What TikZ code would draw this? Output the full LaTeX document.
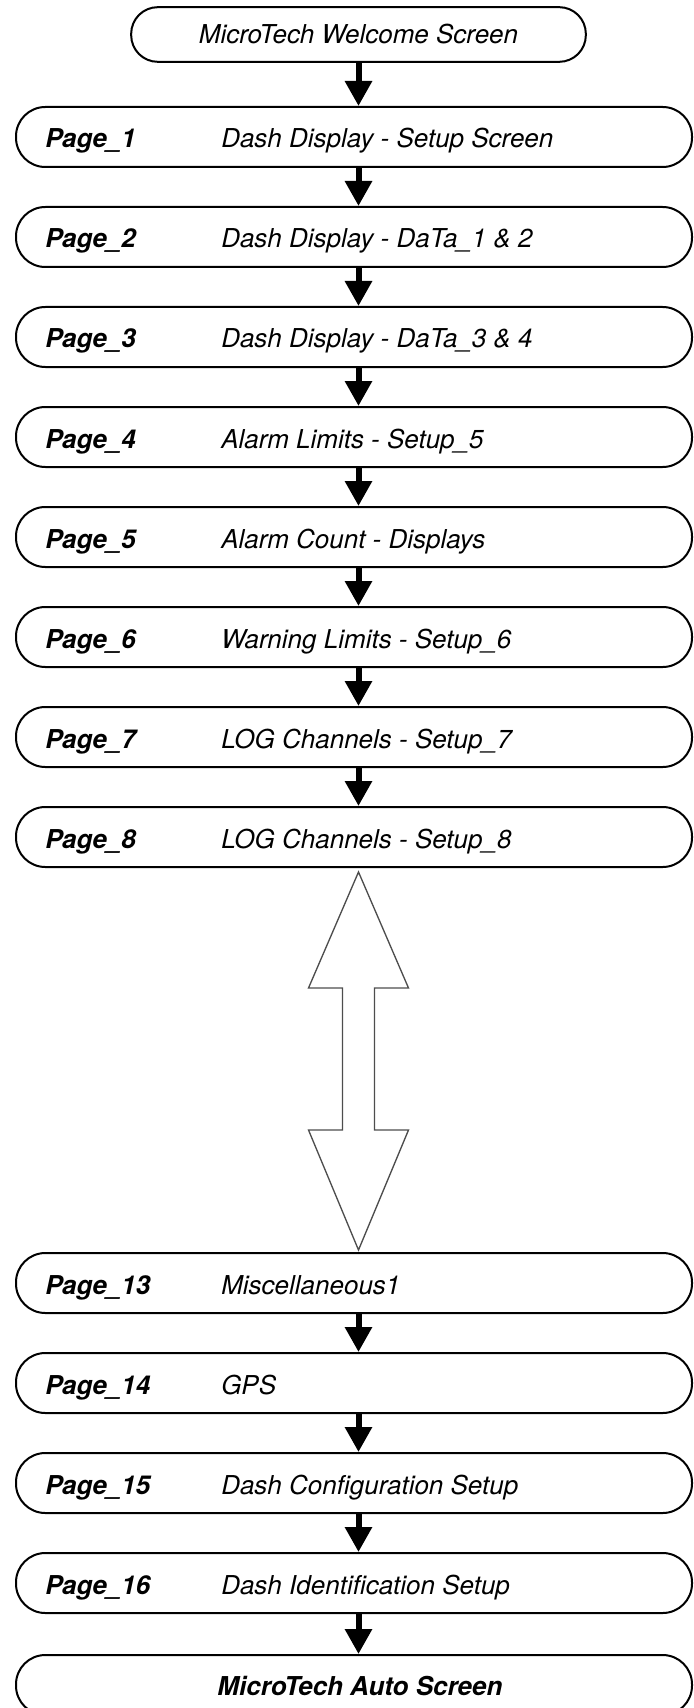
\documentclass[tikz,border=0pt]{standalone}
\usepackage{fontspec}
\setmainfont{TeX Gyre Heros}
\usetikzlibrary{arrows.meta}

\tikzset{
  screenbox/.style={draw, line width=1.5pt, rounded corners=20pt, minimum width=341pt, minimum height=41pt, inner sep=0pt},
  pagebox/.style={draw, line width=1.5pt, rounded corners=22pt, minimum width=507pt, minimum height=45pt, inner sep=0pt},
  pagelabel/.style={inner sep=0pt, anchor=base west, font=\fontsize{19.5}{23}\selectfont\bfseries\itshape},
  pagetext/.style={inner sep=0pt, anchor=base west, font=\fontsize{19.5}{23}\selectfont\itshape},
  flowarrow/.style={line width=4.5pt, -{Triangle[width=19.5pt,length=18.75pt]}},
  jumparrow/.style={draw={rgb, 255:red, 77; green, 77; blue, 77}, line width=1pt, fill=white, line join=miter}
}

\begin{document}
\begin{tikzpicture}[x=0.75pt,y=0.75pt,yscale=-1,xscale=1]
\path[use as bounding box] (0,0) rectangle (693,1708);

%Rounded Rect
\node[screenbox] (welcome) at (358.5,34.5) {};
\node[pagebox] (p1) at (354,137) {};
\node[pagebox] (p2) at (354,237) {};
\node[pagebox] (p3) at (354,337) {};
\node[pagebox] (p4) at (354,437) {};
\node[pagebox] (p5) at (354,537) {};
\node[pagebox] (p6) at (354,637) {};
\node[pagebox] (p7) at (354,737) {};
\node[pagebox] (p8) at (354,837) {};
\node[pagebox] (p13) at (354,1283) {};
\node[pagebox] (p14) at (354,1383) {};
\node[pagebox] (p15) at (354,1483) {};
\node[pagebox] (p16) at (354,1583) {};
\node[pagebox] (auto) at (354,1685) {};

%Straight Lines
\draw[flowarrow] (welcome.south) -- (welcome.south |- p1.north);
\draw[flowarrow] (p1.south -| welcome) -- (p2.north -| welcome);
\draw[flowarrow] (p2.south -| welcome) -- (p3.north -| welcome);
\draw[flowarrow] (p3.south -| welcome) -- (p4.north -| welcome);
\draw[flowarrow] (p4.south -| welcome) -- (p5.north -| welcome);
\draw[flowarrow] (p5.south -| welcome) -- (p6.north -| welcome);
\draw[flowarrow] (p6.south -| welcome) -- (p7.north -| welcome);
\draw[flowarrow] (p7.south -| welcome) -- (p8.north -| welcome);
\draw[flowarrow] (p13.south -| welcome) -- (p14.north -| welcome);
\draw[flowarrow] (p14.south -| welcome) -- (p15.north -| welcome);
\draw[flowarrow] (p15.south -| welcome) -- (p16.north -| welcome);
\draw[flowarrow] (p16.south -| welcome) -- (auto.north -| welcome);

%Shape: Up Down Arrow
\coordinate (jtop) at (358.5,872);
\coordinate (jbot) at (358.5,1250);
\draw[jumparrow] (jtop) -- ++(50,116) -- ++(-34,0) -- ++(0,142) -- ++(34,0) -- (jbot) -- ++(-50,-120) -- ++(34,0) -- ++(0,-142) -- ++(-34,0) -- cycle;

% Text Node
\node[pagetext, anchor=base] (welcometxt) at (358.5,44) {MicroTech Welcome Screen};
% Text Node
\node[pagelabel] (l1) at (45,148) {Page\_1};
\node[pagetext] (t1) at (221,148) {Dash Display - Setup Screen};
% Text Node
\node[pagelabel] (l2) at (45,248) {Page\_2};
\node[pagetext] (t2) at (221,248) {Dash Display - DaTa\_1 \& 2};
% Text Node
\node[pagelabel] (l3) at (45,348) {Page\_3};
\node[pagetext] (t3) at (221,348) {Dash Display - DaTa\_3 \& 4};
% Text Node
\node[pagelabel] (l4) at (45,448) {Page\_4};
\node[pagetext] (t4) at (221,448) {Alarm Limits - Setup\_5};
% Text Node
\node[pagelabel] (l5) at (45,548) {Page\_5};
\node[pagetext] (t5) at (221,548) {Alarm Count - Displays};
% Text Node
\node[pagelabel] (l6) at (45,648) {Page\_6};
\node[pagetext] (t6) at (221,648) {Warning Limits - Setup\_6};
% Text Node
\node[pagelabel] (l7) at (45,748) {Page\_7};
\node[pagetext] (t7) at (221,748) {LOG Channels - Setup\_7};
% Text Node
\node[pagelabel] (l8) at (45,848) {Page\_8};
\node[pagetext] (t8) at (221,848) {LOG Channels - Setup\_8};
% Text Node
\node[pagelabel] (l13) at (45,1294) {Page\_13};
\node[pagetext] (t13) at (221,1294) {Miscellaneous1};
% Text Node
\node[pagelabel] (l14) at (45,1394) {Page\_14};
\node[pagetext] (t14) at (221,1394) {GPS};
% Text Node
\node[pagelabel] (l15) at (45,1494) {Page\_15};
\node[pagetext] (t15) at (221,1494) {Dash Configuration Setup};
% Text Node
\node[pagelabel] (l16) at (45,1594) {Page\_16};
\node[pagetext] (t16) at (221,1594) {Dash Identification Setup};
% Text Node
\node[pagelabel, anchor=base] (autotxt) at (360,1695) {MicroTech Auto Screen};

\end{tikzpicture}
\end{document}
